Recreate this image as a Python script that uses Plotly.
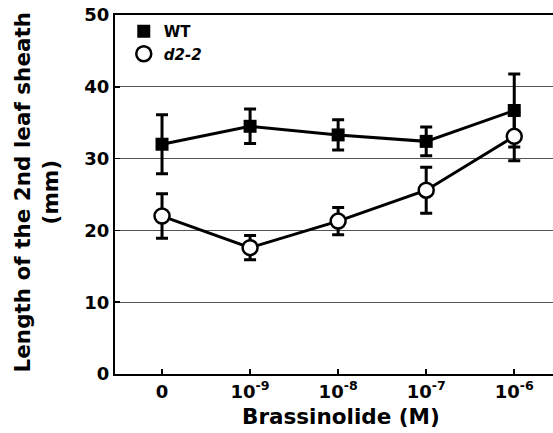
import plotly.graph_objects as go

categories = ["0", "1e-9", "1e-8", "1e-7", "1e-6"]
tick_labels = ["0", "10<sup>-9</sup>", "10<sup>-8</sup>", "10<sup>-7</sup>", "10<sup>-6</sup>"]
wt_mean = [32.0, 34.5, 33.3, 32.4, 36.7]
wt_err = [4.1, 2.4, 2.1, 2.0, 5.1]
d2_mean = [22.0, 17.6, 21.3, 25.6, 33.1]
d2_err = [3.1, 1.7, 1.9, 3.2, 3.4]
y_ticks = [0, 10, 20, 30, 40, 50]
x_title = "Brassinolide (M)"
y_title = "Length of the 2nd leaf sheath<br>(mm)"

FONT = "DejaVu Sans, Liberation Sans, Arial, sans-serif"
xidx = list(range(len(categories)))

fig = go.Figure()
fig.add_trace(go.Scatter(
    x=xidx, y=wt_mean, mode="lines+markers", showlegend=False,
    line=dict(color="black", width=3),
    marker=dict(symbol="square", size=13, color="black"),
    error_y=dict(type="data", array=wt_err, visible=True, color="black", thickness=3, width=6),
))
fig.add_trace(go.Scatter(
    x=xidx, y=d2_mean, mode="lines+markers", showlegend=False,
    line=dict(color="black", width=3),
    marker=dict(symbol="circle", size=15, color="white", line=dict(color="black", width=2.5)),
    error_y=dict(type="data", array=d2_err, visible=True, color="black", thickness=3, width=6),
))
# legend-only entries (markers only)
fig.add_trace(go.Scatter(
    x=[None], y=[None], mode="markers", name="WT",
    marker=dict(symbol="square", size=13, color="black"),
))
fig.add_trace(go.Scatter(
    x=[None], y=[None], mode="markers", name="<i>d2-2</i>",
    marker=dict(symbol="circle", size=15, color="white", line=dict(color="black", width=2.5)),
))

fig.update_layout(
    width=553, height=433,
    margin=dict(l=115, r=0, t=15, b=59, autoexpand=False),
    plot_bgcolor="white", paper_bgcolor="white",
    font=dict(family=FONT, color="black", size=18, weight="bold"),
    showlegend=True,
    legend=dict(
        x=0.02, y=1.0, xanchor="left", yanchor="top",
        bgcolor="rgba(0,0,0,0)", font=dict(size=15, family=FONT, weight="bold"),
        tracegroupgap=0, itemwidth=30,
    ),
    xaxis=dict(
        range=[-0.534, 4.44], tickmode="array", tickvals=xidx, ticktext=tick_labels,
        showgrid=False, zeroline=False, showline=True, linecolor="black", linewidth=2,
        mirror=True, ticks="inside", ticklen=5, tickwidth=2, tickcolor="black",
        tickfont=dict(size=18, family=FONT, weight="bold"), automargin=False,
    ),
    yaxis=dict(
        range=[0, 50], tickvals=y_ticks, automargin=False,
        showgrid=True, gridcolor="#555555", gridwidth=1, zeroline=False,
        showline=True, linecolor="black", linewidth=2,
        ticks="inside", ticklen=5, tickwidth=1.5, tickcolor="black",
        tickfont=dict(size=18, family=FONT, weight="bold"),
    ),
    annotations=[
        dict(text=x_title, xref="paper", yref="paper", x=0.516, y=-0.118,
             xanchor="center", yanchor="middle", showarrow=False,
             font=dict(size=21.5, family=FONT, weight="bold")),
        dict(text=y_title, xref="paper", yref="paper", x=-0.177, y=0.507,
             xanchor="center", yanchor="middle", showarrow=False, textangle=-90,
             font=dict(size=21.5, family=FONT, weight="bold")),
    ],
)

fig.write_html(
    "out.html",
    config={"displayModeBar": False, "staticPlot": True},
    post_script="document.body.style.margin='0';document.body.style.overflow='hidden';",
)
